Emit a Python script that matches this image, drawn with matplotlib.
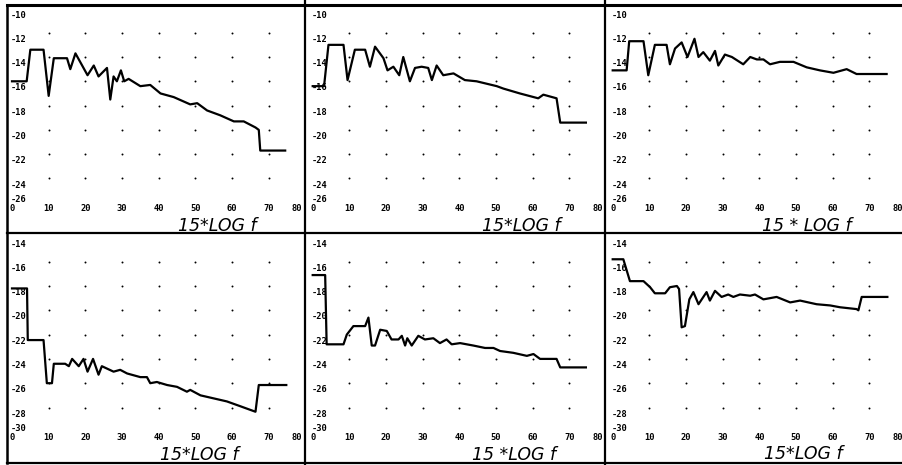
import matplotlib
matplotlib.use("Agg")
import matplotlib.pyplot as plt
import numpy as np

# curves, x in 15*log f units, y in dB
p1_x = [0, 4.0, 5.0, 8.6, 10.0, 11.4, 15.0, 15.9, 17.3, 20.6, 22.3, 23.6, 25.9, 26.8, 27.7, 28.6, 29.7, 30.6, 31.8, 35.0,
        37.7, 40.5, 44.1, 48.6, 50.5, 53.2, 56.8, 60.5, 63.2, 66.4, 67.3, 67.7, 74.5]
p1_y = [-16.0, -16.0, -13.4, -13.4, -17.2, -14.1, -14.1, -15.0, -13.7, -15.5, -14.7, -15.6, -14.9, -17.5, -15.6, -16.0,
        -15.1, -16.0, -15.8, -16.4, -16.3, -17.0, -17.3, -17.9, -17.8, -18.4, -18.8, -19.3, -19.3, -19.8, -20.0, -21.7, -21.7]

p2_x = [0, 3.1, 4.3, 8.4, 9.5, 11.5, 14.3, 15.6, 17.0, 19.3, 20.4, 22.0, 23.6, 24.7, 26.5, 27.9, 29.7, 31.5, 32.5, 33.8,
        35.6, 38.4, 41.5, 44.7, 50.2, 52.0, 56.5, 61.5, 62.9, 66.5, 67.5, 74.5]
p2_y = [-16.4, -16.4, -13.0, -13.0, -15.9, -13.4, -13.4, -14.8, -13.15, -14.1, -15.1, -14.8, -15.5, -14.0, -16.0, -14.9,
        -14.8, -14.9, -15.9, -14.7, -15.5, -15.35, -15.9, -16.0, -16.4, -16.6, -17.0, -17.4, -17.1, -17.4, -19.4, -19.4]

p3_x = [0, 3.8, 4.5, 8.4, 9.7, 11.5, 14.7, 15.6, 17.0, 18.8, 20.4, 22.3, 23.4, 24.7, 26.5, 27.9, 28.8, 30.6, 32.5, 35.6,
        37.5, 39.3, 41.1, 42.9, 45.6, 49.3, 52.9, 56.5, 60.2, 63.8, 66.5, 74.7]
p3_y = [-15.1, -15.1, -12.7, -12.7, -15.5, -13.0, -13.0, -14.6, -13.3, -12.8, -14.0, -12.5, -14.0, -13.6, -14.3, -13.5,
        -14.7, -13.8, -14.0, -14.6, -14.0, -14.2, -14.2, -14.6, -14.4, -14.4, -14.85, -15.1, -15.3, -15.0, -15.4, -15.4]

p4_x = [0, 4.1, 4.3, 8.6, 9.5, 10.9, 11.4, 14.5, 15.5, 16.4, 18.2, 19.5, 20.6, 22.1, 23.6, 24.5, 27.7, 29.5, 31.4, 35.0,
        36.8, 37.7, 39.5, 42.3, 45.0, 47.7, 48.6, 51.4, 55.0, 58.6, 62.3, 66.4, 67.3, 74.8]
p4_y = [-18.2, -18.2, -22.45, -22.45, -26.0, -26.0, -24.4, -24.4, -24.6, -24.0, -24.6, -24.0, -25.05, -24.0, -25.3, -24.6,
        -25.05, -24.9, -25.2, -25.5, -25.5, -26.0, -25.9, -26.15, -26.3, -26.7, -26.55, -27.0, -27.25, -27.5, -27.9,
        -28.35, -26.15, -26.15]

p5_x = [0, 3.4, 3.8, 8.4, 9.3, 11.1, 14.3, 15.2, 16.1, 17.0, 18.4, 20.2, 21.5, 23.4, 24.3, 25.2, 25.8, 27.0, 28.8, 30.6,
        32.9, 34.7, 36.5, 37.9, 40.2, 43.8, 47.0, 49.3, 51.1, 54.7, 58.4, 60.2, 62.0, 66.5, 67.5, 74.5]
p5_y = [-17.1, -17.1, -22.8, -22.8, -22.0, -21.3, -21.3, -20.6, -22.9, -22.9, -21.6, -21.7, -22.4, -22.4, -22.1, -22.9,
        -22.3, -22.9, -22.1, -22.4, -22.3, -22.7, -22.4, -22.8, -22.7, -22.9, -23.1, -23.1, -23.35, -23.5, -23.75, -23.6,
        -24.0, -24.0, -24.7, -24.7]

p6_x = [0, 2.9, 4.7, 8.4, 10.2, 11.5, 14.3, 15.6, 17.5, 18.1, 18.8, 19.7, 20.9, 22.0, 23.4, 25.6, 26.5, 27.9, 29.7, 31.5,
        32.9, 34.7, 37.5, 38.8, 41.1, 44.7, 48.4, 51.1, 55.6, 59.3, 62.0, 66.5, 67.0, 67.9, 74.9]
p6_y = [-15.8, -15.8, -17.6, -17.6, -18.1, -18.6, -18.6, -18.1, -18.0, -18.25, -21.4, -21.3, -19.1, -18.5, -19.5, -18.5,
        -19.2, -18.4, -18.9, -18.7, -18.9, -18.7, -18.8, -18.7, -19.1, -18.9, -19.35, -19.2, -19.5, -19.6, -19.75, -19.9,
        -20.0, -18.9, -18.9]

x_ticks = [0, 10, 20, 30, 40, 50, 60, 70, 80]
top_yticks = [-10, -12, -14, -16, -18, -20, -22, -24, -26]
bot_yticks = [-14, -16, -18, -20, -22, -24, -26, -28, -30]
xlabels = ["15*LOG f", "15*LOG f", "15 * LOG f", "15*LOG f", "15 *LOG f", "15*LOG f"]
label_pos = [(56, -27.9), (57, -27.9), (53, -27.9), (51, -31.9), (55, -31.9), (52, -31.8)]

curves = [(p1_x, p1_y), (p2_x, p2_y), (p3_x, p3_y), (p4_x, p4_y), (p5_x, p5_y), (p6_x, p6_y)]

W, H = 902, 465
fig = plt.figure(figsize=(W / 100, H / 100), dpi=100)

# cell layout in pixels
col_edges = [(7, 305), (305, 605), (605, 902)]
col_x0 = [12, 312.7, 612.7]       # pixel of x = 0
row_edges = [(5, 233), (233, 463)]
row_ref = [(8.4, -10), (237.4, -14)]  # pixel of first tick value
px_x = 3.667   # pixels per x unit
px_y = 12.15   # pixels per dB

mono = dict(family="DejaVu Sans Mono", weight="bold", fontsize=6.3, color="black")

for i, (cx, cy) in enumerate(curves):
    r, c = divmod(i, 3)
    L, R = col_edges[c]
    T, B = row_edges[r]
    ax = fig.add_axes([L / W, 1 - B / H, (R - L) / W, (B - T) / H])
    ax.axis("off")
    x0 = col_x0[c]
    yp, yv = row_ref[r]
    ax.set_xlim((L - x0) / px_x, (R - x0) / px_x)
    ax.set_ylim(yv - (B - yp) / px_y, yv - (T - yp) / px_y)

    yt = top_yticks if r == 0 else bot_yticks
    # dotted grid
    gx, gy = np.meshgrid(x_ticks[1:8], yt[1:8])
    ax.scatter(gx.ravel(), gy.ravel(), s=2, color="black", lw=0)

    # y tick labels
    for k, v in enumerate(yt):
        off = 0.25 if k == len(yt) - 1 else -0.55
        ax.text(-0.3, v + off, str(v), ha="left", va="center", **mono)
    # x tick labels
    ybase = yt[-1] - 0.43
    for v in x_ticks:
        xpos = v if v < 80 else 77.7
        ax.text(xpos, ybase, str(v), ha="center", va="center", **mono)

    ax.plot(cx, cy, color="black", lw=1.6, solid_joinstyle="round")

    lx, ly = label_pos[i]
    ax.text(lx, ly, xlabels[i], ha="center", va="center", fontsize=12.5,
            style="italic", family="DejaVu Sans", color="black")

# frame lines
fr = fig.add_axes([0, 0, 1, 1])
fr.set_xlim(0, W)
fr.set_ylim(H, 0)
fr.axis("off")
fr.plot([7, 7], [5, 463], color="black", lw=1.8)
fr.plot([305, 305], [0, 465], color="black", lw=1.6)
fr.plot([605, 605], [0, 465], color="black", lw=1.6)
fr.plot([7, 902], [233, 233], color="black", lw=1.6)
fr.plot([7, 902], [5, 5], color="black", lw=2.2)
fr.plot([7, 902], [463, 463], color="black", lw=1.6)

fig.savefig("out.png", dpi=100, facecolor="white")
